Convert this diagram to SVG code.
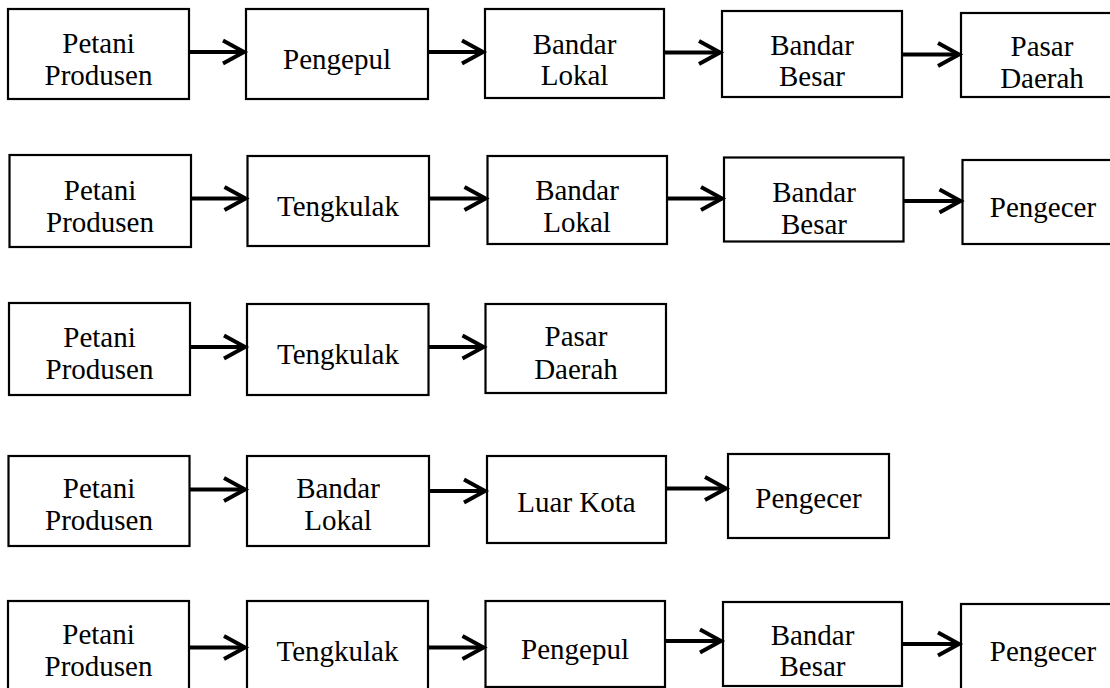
<svg xmlns="http://www.w3.org/2000/svg" width="1110" height="688" viewBox="0 0 1110 688">
<style>
.box{fill:#fff;stroke:#000;stroke-width:2.2}
.t{font-family:'Liberation Serif','Times New Roman','DejaVu Serif',serif;font-size:29px;fill:#000;text-anchor:middle}
.ar{fill:none;stroke:#000;stroke-width:4;marker-end:url(#chev)}
</style>
<defs>
<marker id="chev" markerUnits="userSpaceOnUse" viewBox="0 0 26 26" markerWidth="26" markerHeight="26" refX="23" refY="13" orient="auto" overflow="visible">
<path d="M2 1.5 L23 13 L2 24.5" fill="none" stroke="#000" stroke-width="4"/>
</marker>
</defs>
<rect width="1110" height="688" fill="#fff"/>
<g id="row1">
<g id="r1n1"><rect class="box" x="8" y="9" width="181" height="90"/><text class="t" x="98.5" y="53">Petani</text><text class="t" x="98.5" y="85">Produsen</text></g>
<g id="r1n2"><rect class="box" x="246" y="9" width="182" height="90"/><text class="t" x="337" y="69">Pengepul</text></g>
<g id="r1n3"><rect class="box" x="485" y="9" width="179" height="89"/><text class="t" x="574.5" y="54">Bandar</text><text class="t" x="574.5" y="85">Lokal</text></g>
<g id="r1n4"><rect class="box" x="722" y="11" width="180" height="86"/><text class="t" x="812" y="55">Bandar</text><text class="t" x="812" y="86">Besar</text></g>
<g id="r1n5"><rect class="box" x="961" y="13" width="180" height="84"/><text class="t" x="1042" y="56">Pasar</text><text class="t" x="1042" y="88">Daerah</text></g>
</g>
<g id="row2">
<g id="r2n1"><rect class="box" x="9.5" y="155" width="181.5" height="92"/><text class="t" x="100" y="200">Petani</text><text class="t" x="100" y="232">Produsen</text></g>
<g id="r2n2"><rect class="box" x="247.5" y="156" width="181.5" height="90"/><text class="t" x="338" y="216">Tengkulak</text></g>
<g id="r2n3"><rect class="box" x="487.5" y="156" width="179.5" height="88"/><text class="t" x="577" y="200">Bandar</text><text class="t" x="577" y="232">Lokal</text></g>
<g id="r2n4"><rect class="box" x="724" y="157.5" width="179.5" height="84"/><text class="t" x="814" y="202">Bandar</text><text class="t" x="814" y="234">Besar</text></g>
<g id="r2n5"><rect class="box" x="962.5" y="160" width="180" height="84"/><text class="t" x="1043" y="217">Pengecer</text></g>
</g>
<g id="row3">
<g id="r3n1"><rect class="box" x="9" y="303" width="181" height="92"/><text class="t" x="99.5" y="347">Petani</text><text class="t" x="99.5" y="379">Produsen</text></g>
<g id="r3n2"><rect class="box" x="247" y="304" width="181.5" height="91"/><text class="t" x="338" y="364">Tengkulak</text></g>
<g id="r3n3"><rect class="box" x="485.5" y="304" width="180.5" height="89"/><text class="t" x="576" y="346">Pasar</text><text class="t" x="576" y="379">Daerah</text></g>
</g>
<g id="row4">
<g id="r4n1"><rect class="box" x="8.5" y="456" width="181" height="90"/><text class="t" x="99" y="498">Petani</text><text class="t" x="99" y="530">Produsen</text></g>
<g id="r4n2"><rect class="box" x="247" y="456" width="182" height="90"/><text class="t" x="338" y="498">Bandar</text><text class="t" x="338" y="530">Lokal</text></g>
<g id="r4n3"><rect class="box" x="487" y="456" width="179" height="87"/><text class="t" x="576.5" y="512">Luar Kota</text></g>
<g id="r4n4"><rect class="box" x="728" y="454" width="161" height="84"/><text class="t" x="808.5" y="508">Pengecer</text></g>
</g>
<g id="row5">
<g id="r5n1"><rect class="box" x="8" y="601" width="181" height="92"/><text class="t" x="98.5" y="644">Petani</text><text class="t" x="98.5" y="676">Produsen</text></g>
<g id="r5n2"><rect class="box" x="247" y="601" width="181" height="92"/><text class="t" x="337.5" y="661">Tengkulak</text></g>
<g id="r5n3"><rect class="box" x="485.5" y="601" width="179.5" height="86"/><text class="t" x="575" y="659">Pengepul</text></g>
<g id="r5n4"><rect class="box" x="723" y="602" width="179" height="84"/><text class="t" x="812.5" y="645">Bandar</text><text class="t" x="812.5" y="676">Besar</text></g>
<g id="r5n5"><rect class="box" x="961" y="604" width="180" height="90"/><text class="t" x="1043" y="661">Pengecer</text></g>
</g>
<g id="connectors">
<path class="ar" d="M189 52 H244"/>
<path class="ar" d="M428 52 H483"/>
<path class="ar" d="M664 52.5 H720"/>
<path class="ar" d="M902 54.5 H959"/>
<path class="ar" d="M191 198.5 H245.5"/>
<path class="ar" d="M429 198.5 H485.5"/>
<path class="ar" d="M667 198.5 H722"/>
<path class="ar" d="M903.5 201 H960.5"/>
<path class="ar" d="M190 347 H245"/>
<path class="ar" d="M428.5 347 H483.5"/>
<path class="ar" d="M189.5 489.5 H245"/>
<path class="ar" d="M429 491 H485"/>
<path class="ar" d="M666 488.5 H726"/>
<path class="ar" d="M189 647.5 H245"/>
<path class="ar" d="M428 647.5 H483.5"/>
<path class="ar" d="M665 641 H721"/>
<path class="ar" d="M902 644 H959"/>
</g>
</svg>
